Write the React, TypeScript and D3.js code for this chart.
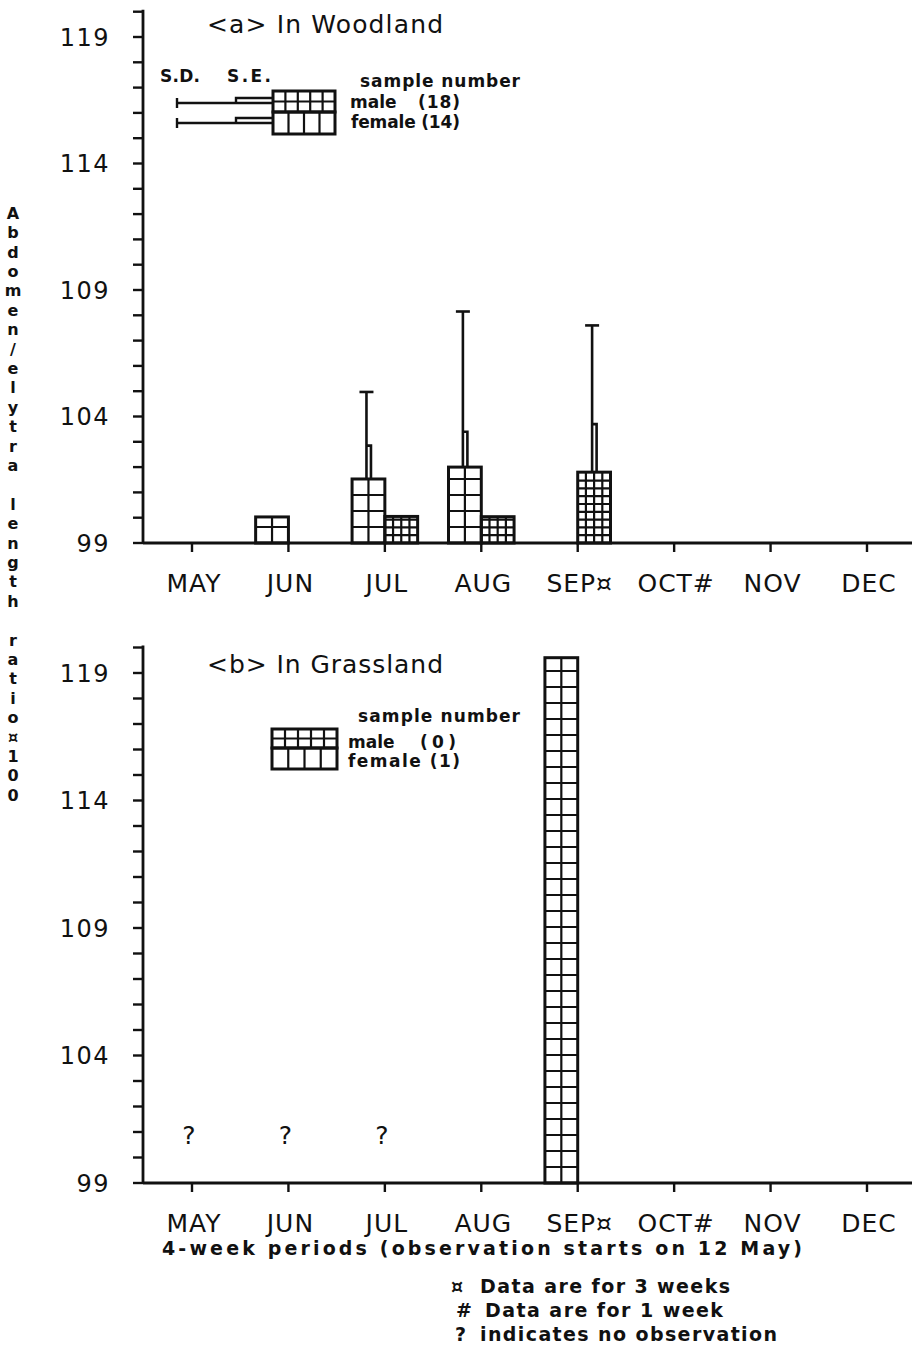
import React from 'react';
import * as d3 from 'd3';

// ---------- data ----------
const months = ['MAY', 'JUN', 'JUL', 'AUG', 'SEP¤', 'OCT#', 'NOV', 'DEC'];
const yTickValues = [99, 104, 109, 114, 119];

// Woodland
const woodFemaleMean = [null, 100.03, 101.53, 102.0, null, null, null, null];
const woodFemaleSE = [null, null, 102.85, 103.4, null, null, null, null];
const woodFemaleSD = [null, null, 104.97, 108.15, null, null, null, null];
const woodMaleMean = [null, null, 100.05, 100.04, 101.8, null, null, null];
const woodMaleSE = [null, null, null, null, 103.7, null, null, null];
const woodMaleSD = [null, null, null, null, 107.6, null, null, null];

// Grassland
const grassFemaleMean = [null, null, null, null, 119.6, null, null, null];
const grassMaleMean = [null, null, null, null, null, null, null, null];
const grassNoObs = ['MAY', 'JUN', 'JUL'];
const noObsLevel = 100.9;

const yLabel = 'Abdomen/elytra length ratio¤100';

const FONT = '"DejaVu Sans", "Liberation Sans", sans-serif';
const INK = '#111';

type BarProps = { x0: number; w: number; yTop: number; yBot: number; cols: number; cellH: number };

function CellBar({ x0, w, yTop, yBot, cols, cellH }: BarProps) {
  const vlines = d3.range(1, cols).map((i) => x0 + (i * w) / cols);
  const hlines: number[] = [];
  for (let yy = yBot - cellH; yy > yTop + 2; yy -= cellH) hlines.push(yy);
  return (
    <g stroke={INK} fill="none">
      {vlines.map((vx, i) => (
        <line key={'v' + i} x1={vx} x2={vx} y1={yTop} y2={yBot} strokeWidth={2.2} />
      ))}
      {hlines.map((hy, i) => (
        <line key={'h' + i} x1={x0} x2={x0 + w} y1={hy} y2={hy} strokeWidth={2.2} />
      ))}
      <rect x={x0} y={yTop} width={w} height={yBot - yTop} strokeWidth={3} />
    </g>
  );
}

function ErrBar({ cx, yMean, ySE, ySD }: { cx: number; yMean: number; ySE: number | null; ySD: number | null }) {
  const sdX = cx - 2;
  const seX = cx + 2.5;
  return (
    <g stroke={INK} fill="none" strokeWidth={2.6}>
      {ySD != null && (
        <>
          <line x1={sdX} x2={sdX} y1={yMean} y2={ySD} />
          <line x1={sdX - 7} x2={sdX + 7} y1={ySD} y2={ySD} />
        </>
      )}
      {ySE != null && <path d={`M${seX},${yMean} V${ySE} H${sdX}`} />}
    </g>
  );
}

type PanelProps = {
  y: d3.ScaleLinear<number, number>;
  x: d3.ScalePoint<string>;
  title: string;
  titleY: number;
  female: (number | null)[];
  male: (number | null)[];
  femaleSE?: (number | null)[];
  femaleSD?: (number | null)[];
  maleSE?: (number | null)[];
  maleSD?: (number | null)[];
  noObs?: string[];
};

const axisX = 143;

function Panel({ y, x, title, titleY, female, male, femaleSE, femaleSD, maleSE, maleSD, noObs }: PanelProps) {
  const [d0, d1] = y.domain();
  const base = y(d0);
  const top = y(d1);
  const minor = d3.range(d0, d1 + 0.5, 1);
  const barW = x.step() * 0.34;
  const femaleCell = 16;
  const maleCell = 7.8;
  return (
    <g>
      {/* axes */}
      <line x1={axisX} x2={axisX} y1={top - 2} y2={base} stroke={INK} strokeWidth={2.8} />
      <line x1={axisX} x2={912} y1={base} y2={base} stroke={INK} strokeWidth={2.8} />
      {minor.map((v) => (
        <line key={v} x1={axisX - 10} x2={axisX} y1={y(v)} y2={y(v)} stroke={INK} strokeWidth={2.4} />
      ))}
      {yTickValues.map((v) => (
        <text key={v} x={110} y={y(v)} dy="0.36em" textAnchor="end" fontFamily={FONT} fontSize={24} letterSpacing={1.5} fill={INK}>
          {v}
        </text>
      ))}
      {months.map((m) => (
        <g key={m}>
          <line x1={x(m)} x2={x(m)} y1={base} y2={base + 9} stroke={INK} strokeWidth={2.4} />
          <text x={(x(m) as number) + 2} y={base + 48.5} textAnchor="middle" fontFamily={FONT} fontSize={25} letterSpacing={1} fill={INK}>
            {m}
          </text>
        </g>
      ))}
      {/* title */}
      <text x={207} y={titleY} fontFamily={FONT} fontSize={25} textLength={236} lengthAdjust="spacing" fill={INK}>
        {title}
      </text>
      {/* bars */}
      {months.map((m, i) => {
        const cx = x(m) as number;
        const f = female[i];
        const ml = male[i];
        return (
          <g key={'b' + m}>
            {f != null && (
              <>
                <CellBar x0={cx - barW} w={barW} yTop={y(f)} yBot={base} cols={2} cellH={femaleCell} />
                <ErrBar
                  cx={cx - barW / 2}
                  yMean={y(f)}
                  ySE={femaleSE && femaleSE[i] != null ? y(femaleSE[i] as number) : null}
                  ySD={femaleSD && femaleSD[i] != null ? y(femaleSD[i] as number) : null}
                />
              </>
            )}
            {ml != null && (
              <>
                <CellBar x0={cx} w={barW} yTop={y(ml)} yBot={base} cols={4} cellH={maleCell} />
                <ErrBar
                  cx={cx + barW / 2}
                  yMean={y(ml)}
                  ySE={maleSE && maleSE[i] != null ? y(maleSE[i] as number) : null}
                  ySD={maleSD && maleSD[i] != null ? y(maleSD[i] as number) : null}
                />
              </>
            )}
          </g>
        );
      })}
      {noObs &&
        noObs.map((m) => (
          <text key={'q' + m} x={(x(m) as number) - 3} y={y(noObsLevel)} dy="0.36em" textAnchor="middle" fontFamily={FONT} fontSize={25} fill={INK}>
            ?
          </text>
        ))}
    </g>
  );
}

function LegendBox({ x0, yTop, ySplit, yBot, w }: { x0: number; yTop: number; ySplit: number; yBot: number; w: number }) {
  return (
    <g>
      <CellBar x0={x0} w={w} yTop={yTop} yBot={ySplit} cols={5} cellH={(ySplit - yTop) / 2} />
      <CellBar x0={x0} w={w} yTop={ySplit} yBot={yBot} cols={4} cellH={yBot - ySplit + 2} />
    </g>
  );
}

const smallText = { fontFamily: FONT, fontWeight: 700 as const, fill: INK };

export default function App() {
  const x = d3.scalePoint<string>().domain(months).range([192, 867]);
  const yA = d3.scaleLinear().domain([99, 120]).range([543, 543 - 21 * 25.3]);
  const yB = d3.scaleLinear().domain([99, 120]).range([1183, 1183 - 21 * 25.5]);

  return (
    <svg width={912} height={1345} style={{ position: 'absolute', left: 0, top: 0, background: '#fff' }}>
      <rect width={912} height={1345} fill="#fff" />

      {/* y-axis label, stacked characters */}
      {yLabel.split('').map((c, i) => (
        <text key={i} x={13} y={213 + i * 19.4} dy="0.36em" textAnchor="middle" fontSize={16} {...smallText}>
          {c}
        </text>
      ))}

      <Panel
        y={yA}
        x={x}
        title="<a> In Woodland"
        titleY={33}
        female={woodFemaleMean}
        male={woodMaleMean}
        femaleSE={woodFemaleSE}
        femaleSD={woodFemaleSD}
        maleSE={woodMaleSE}
        maleSD={woodMaleSD}
      />
      <Panel y={yB} x={x} title="<b> In Grassland" titleY={673} female={grassFemaleMean} male={grassMaleMean} noObs={grassNoObs} />

      {/* legend a */}
      <text x={160} y={82} fontSize={17} textLength={40} lengthAdjust="spacing" {...smallText}>S.D.</text>
      <text x={227} y={82} fontSize={17} textLength={44} lengthAdjust="spacing" {...smallText}>S.E.</text>
      <g stroke={INK} strokeWidth={2.4} fill="none">
        <path d="M177,103 H273" />
        <path d="M177,98 V108" />
        <path d="M273,98 H236 V103" />
        <path d="M177,123 H273" />
        <path d="M177,118 V128" />
        <path d="M273,118 H236 V123" />
      </g>
      <LegendBox x0={273} yTop={91} ySplit={112} yBot={134} w={62} />
      <text x={360} y={87} fontSize={17} textLength={160} lengthAdjust="spacing" {...smallText}>sample number</text>
      <text x={350} y={108} fontSize={17} {...smallText}>male</text>
      <text x={418} y={108} fontSize={17} textLength={42} lengthAdjust="spacing" {...smallText}>(18)</text>
      <text x={351} y={128} fontSize={17} textLength={109} lengthAdjust="spacing" {...smallText}>female (14)</text>

      {/* legend b */}
      <LegendBox x0={272} yTop={729} ySplit={748} yBot={769} w={65} />
      <text x={358} y={722} fontSize={17} textLength={162} lengthAdjust="spacing" {...smallText}>sample number</text>
      <text x={348} y={748} fontSize={17} {...smallText}>male</text>
      <text x={420} y={748} fontSize={17} textLength={36} lengthAdjust="spacing" {...smallText}>(0)</text>
      <text x={348} y={767} fontSize={17} textLength={112} lengthAdjust="spacing" {...smallText}>female (1)</text>

      {/* caption & notes */}
      <text x={162} y={1255} fontSize={19} textLength={640} lengthAdjust="spacing" {...smallText}>
        4-week periods (observation starts on 12 May)
      </text>
      <text x={451} y={1293} fontSize={19} {...smallText}>¤</text>
      <text x={480} y={1293} fontSize={19} textLength={250} lengthAdjust="spacing" {...smallText}>Data are for 3 weeks</text>
      <text x={456} y={1317} fontSize={19} {...smallText}>#</text>
      <text x={485} y={1317} fontSize={19} textLength={238} lengthAdjust="spacing" {...smallText}>Data are for 1 week</text>
      <text x={455} y={1341} fontSize={19} {...smallText}>?</text>
      <text x={480} y={1341} fontSize={19} textLength={297} lengthAdjust="spacing" {...smallText}>indicates no observation</text>
    </svg>
  );
}
